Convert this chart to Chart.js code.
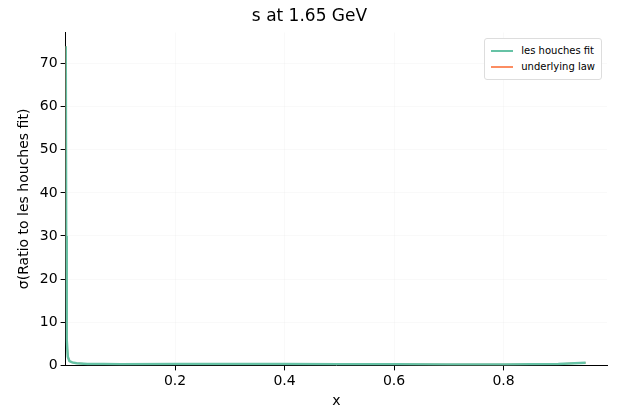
<!DOCTYPE html>
<html>
<head>
<script src="https://cdn.jsdelivr.net/npm/chart.js@4"></script>
<style>
  body { margin: 0; background: #fff; }
  #wrap { width: 617px; height: 420px; position: relative; }
  #legend { position: absolute; right: 15px; top: 38px; border: 1px solid #ddd; border-radius: 3px;
    background: #fff; font: 10px "DejaVu Sans"; padding: 4px 6px; line-height: 16px; }
  #legend span.sw { display: inline-block; width: 22px; height: 2px; vertical-align: middle; margin-right: 8px; }
</style>
</head>
<body>
<div id="wrap"><canvas id="c" width="617" height="420"></canvas>
<div id="legend">
  <div><span class="sw" style="background:#66c2a5"></span>les houches fit</div>
  <div><span class="sw" style="background:#fc8d62"></span>underlying law</div>
</div></div>
<script>
var xs = [0.0002, 0.001, 0.002, 0.004, 0.007, 0.012, 0.02, 0.04, 0.07, 0.1, 0.2, 0.3, 0.4, 0.5, 0.6, 0.7, 0.8, 0.85, 0.9, 0.95];
var fitRatio = [74, 30, 6, 2.0, 1.0, 0.7, 0.5, 0.35, 0.3, 0.28, 0.3, 0.3, 0.3, 0.28, 0.25, 0.22, 0.22, 0.25, 0.35, 0.6];
var lawRatio = [74, 30, 6, 2.0, 1.0, 0.7, 0.5, 0.35, 0.3, 0.28, 0.3, 0.3, 0.3, 0.28, 0.25, 0.22, 0.22, 0.25, 0.35, 0.6];
var xTicks = [0.2, 0.4, 0.6, 0.8];
var yTicks = [0, 10, 20, 30, 40, 50, 60, 70];

function pts(v) { return xs.map(function (x, i) { return { x: x, y: v[i] }; }); }

new Chart(document.getElementById("c"), {
  type: "line",
  data: {
    datasets: [
      { label: "les houches fit", data: pts(fitRatio), borderColor: "#66c2a5", borderWidth: 2.5, pointRadius: 0, order: 1 },
      { label: "underlying law", data: pts(lawRatio), borderColor: "#fc8d62", borderWidth: 1.5, pointRadius: 0, order: 2 }
    ]
  },
  options: {
    responsive: false, animation: false,
    layout: { padding: { left: 12, right: 10, top: 0, bottom: 10 } },
    plugins: {
      legend: { display: false },
      title: { display: true, text: "s at 1.65 GeV", color: "#000", font: { family: "DejaVu Sans", size: 17, weight: "normal" }, padding: { top: 6, bottom: 6 } },
      tooltip: { enabled: false }
    },
    scales: {
      x: {
        type: "linear", min: 0, max: 0.989,
        afterBuildTicks: function (a) { a.ticks = xTicks.map(function (v) { return { value: v }; }); },
        ticks: { color: "#000", font: { family: "DejaVu Sans", size: 14 }, callback: function (v) { return v.toFixed(1); } },
        grid: { color: "rgba(0,0,0,0.025)", tickColor: "#000", tickLength: 5 },
        border: { color: "#000" },
        title: { display: true, text: "x", color: "#000", font: { family: "DejaVu Sans", size: 14 }, padding: 0 }
      },
      y: {
        min: 0, max: 77.2,
        afterBuildTicks: function (a) { a.ticks = yTicks.map(function (v) { return { value: v }; }); },
        ticks: { color: "#000", font: { family: "DejaVu Sans", size: 14 } },
        grid: { color: "rgba(0,0,0,0.025)", tickColor: "#000", tickLength: 5 },
        border: { color: "#000" },
        title: { display: true, text: "σ(Ratio to les houches fit)", color: "#000", font: { family: "DejaVu Sans", size: 14 } }
      }
    }
  }
});
</script>
</body>
</html>
